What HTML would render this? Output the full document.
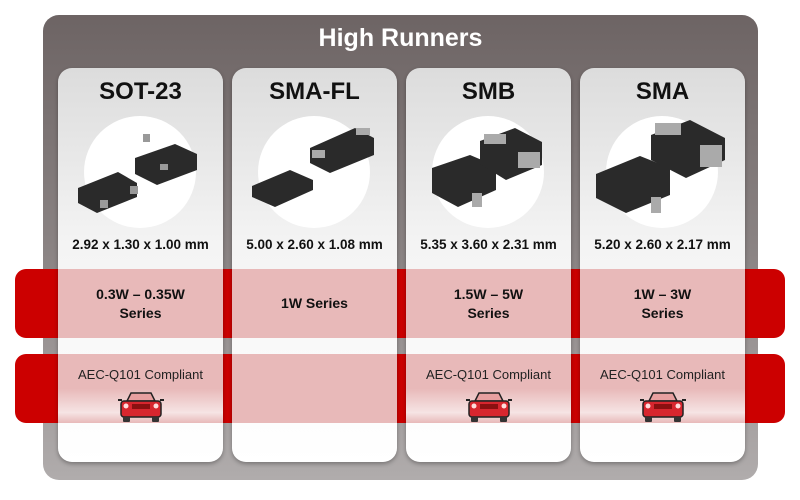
<!DOCTYPE html>
<html><head><style>
body{margin:0;width:800px;height:500px;background:#fff;position:relative;overflow:hidden;font-family:"Liberation Sans",Arial,sans-serif}
.abs{position:absolute}
.outer{left:43px;top:15px;width:715px;height:465px;border-radius:16px;background:linear-gradient(#6d6464,#8a8383 50%,#b0acac)}
.title{left:43px;top:24px;width:715px;text-align:center;color:#fff;font-weight:bold;font-size:25px}
.card{top:68px;width:165px;height:394px;border-radius:14px;background:linear-gradient(#dcdcdc,#f4f4f4 45%,#fff);box-shadow:0 2px 4px rgba(0,0,0,.3)}
.band{left:15px;width:770px;height:69px;border-radius:11px;background:#cc0000}
.pink{width:165px;height:69px;background:#e8b9b9}
.pink2{background:linear-gradient(#e8b9b9 50%,#f6e4e4 85%,#e8b9b9)}
.name{top:78px;width:165px;text-align:center;font-weight:bold;font-size:24px;color:#111}
.circ{width:112px;height:112px;border-radius:50%;background:#fff;top:116px}
.dim{top:237px;width:165px;text-align:center;font-weight:bold;font-size:13.5px;color:#111}
.ser{width:165px;text-align:center;font-weight:bold;font-size:14px;color:#111;line-height:19px}
.aec{top:367px;width:165px;text-align:center;font-size:13px;color:#222}
</style></head><body>
<div class="abs outer"></div>
<div class="abs title">High Runners</div>
<div class="abs band" style="top:269px"></div>
<div class="abs band" style="top:354px"></div>
<div class="abs card" style="left:58px"></div>
<div class="abs card" style="left:232px"></div>
<div class="abs card" style="left:406px"></div>
<div class="abs card" style="left:580px"></div>
<div class="abs pink" style="left:58px;top:269px"></div>
<div class="abs pink" style="left:232px;top:269px"></div>
<div class="abs pink" style="left:406px;top:269px"></div>
<div class="abs pink" style="left:580px;top:269px"></div>
<div class="abs pink pink2" style="left:58px;top:354px"></div>
<div class="abs pink" style="left:232px;top:354px"></div>
<div class="abs pink pink2" style="left:406px;top:354px"></div>
<div class="abs pink pink2" style="left:580px;top:354px"></div>

<div class="abs name" style="left:58px">SOT-23</div>
<div class="abs name" style="left:232px">SMA-FL</div>
<div class="abs name" style="left:406px">SMB</div>
<div class="abs name" style="left:580px">SMA</div>

<div class="abs circ" style="left:84px"></div>
<div class="abs circ" style="left:258px"></div>
<div class="abs circ" style="left:432px"></div>
<div class="abs circ" style="left:606px"></div>

<svg class="abs" style="left:0;top:0" width="800" height="500">
<g fill="#2a2a2a">
<!-- SOT-23 -->
<polygon points="78,188 118,172 137,183 137,197 97,213 78,203"/>
<polygon points="135,158 175,144 197,154 197,170 157,185 135,174"/>
<rect x="100" y="200" width="8" height="8" fill="#999"/><rect x="130" y="186" width="8" height="8" fill="#999"/>
<rect x="143" y="134" width="7" height="8" fill="#999"/><rect x="160" y="164" width="8" height="6" fill="#999"/>
<!-- SMA-FL -->
<polygon points="252,186 290,170 313,180 313,190 275,207 252,197"/>
<polygon points="310,148 355,128 374,138 374,155 330,173 310,163"/>
<rect x="312" y="150" width="13" height="8" fill="#aaa"/><rect x="356" y="128" width="14" height="7" fill="#aaa"/>
<!-- SMB -->
<polygon points="432,168 470,155 496,166 496,190 458,207 432,193"/>
<polygon points="480,141 515,128 542,142 542,165 506,180 480,164"/>
<rect x="518" y="152" width="22" height="16" fill="#aaa"/><rect x="484" y="134" width="22" height="10" fill="#aaa"/>
<rect x="472" y="193" width="10" height="14" fill="#aaa"/>
<!-- SMA -->
<polygon points="596,174 640,156 670,168 670,195 626,213 596,198"/>
<polygon points="651,135 690,120 725,138 725,160 686,178 651,160"/>
<rect x="700" y="145" width="22" height="22" fill="#aaa"/><rect x="655" y="123" width="26" height="12" fill="#aaa"/>
<rect x="651" y="197" width="10" height="16" fill="#aaa"/>
</g>
<g id="car">
</g>
</svg>

<div class="abs dim" style="left:58px">2.92 x 1.30 x 1.00 mm</div>
<div class="abs dim" style="left:232px">5.00 x 2.60 x 1.08 mm</div>
<div class="abs dim" style="left:406px">5.35 x 3.60 x 2.31 mm</div>
<div class="abs dim" style="left:580px">5.20 x 2.60 x 2.17 mm</div>

<div class="abs ser" style="left:58px;top:285px">0.3W – 0.35W<br>Series</div>
<div class="abs ser" style="left:232px;top:294px">1W Series</div>
<div class="abs ser" style="left:406px;top:285px">1.5W – 5W<br>Series</div>
<div class="abs ser" style="left:580px;top:285px">1W – 3W<br>Series</div>

<div class="abs aec" style="left:58px">AEC-Q101 Compliant</div>
<div class="abs aec" style="left:406px">AEC-Q101 Compliant</div>
<div class="abs aec" style="left:580px">AEC-Q101 Compliant</div>

<svg class="abs" style="left:118px;top:391px" width="46" height="32" viewBox="0 0 46 32">
<path d="M9 10 L13 2 H33 L37 10 Z" fill="#e8a0a0" stroke="#222" stroke-width="1.5"/>
<rect x="3" y="10" width="40" height="16" rx="3" fill="#d7262e" stroke="#222" stroke-width="1.5"/>
<rect x="5" y="26" width="7" height="5" rx="1" fill="#333"/><rect x="34" y="26" width="7" height="5" rx="1" fill="#333"/>
<rect x="14" y="13" width="18" height="5" fill="#8a1010"/>
<circle cx="8" cy="15" r="2.5" fill="#fdd"/><circle cx="38" cy="15" r="2.5" fill="#fdd"/>
<rect x="0" y="8" width="4" height="2" fill="#222"/><rect x="42" y="8" width="4" height="2" fill="#222"/>
</svg>
<svg class="abs" style="left:466px;top:391px" width="46" height="32" viewBox="0 0 46 32">
<path d="M9 10 L13 2 H33 L37 10 Z" fill="#e8a0a0" stroke="#222" stroke-width="1.5"/>
<rect x="3" y="10" width="40" height="16" rx="3" fill="#d7262e" stroke="#222" stroke-width="1.5"/>
<rect x="5" y="26" width="7" height="5" rx="1" fill="#333"/><rect x="34" y="26" width="7" height="5" rx="1" fill="#333"/>
<rect x="14" y="13" width="18" height="5" fill="#8a1010"/>
<circle cx="8" cy="15" r="2.5" fill="#fdd"/><circle cx="38" cy="15" r="2.5" fill="#fdd"/>
<rect x="0" y="8" width="4" height="2" fill="#222"/><rect x="42" y="8" width="4" height="2" fill="#222"/>
</svg>
<svg class="abs" style="left:640px;top:391px" width="46" height="32" viewBox="0 0 46 32">
<path d="M9 10 L13 2 H33 L37 10 Z" fill="#e8a0a0" stroke="#222" stroke-width="1.5"/>
<rect x="3" y="10" width="40" height="16" rx="3" fill="#d7262e" stroke="#222" stroke-width="1.5"/>
<rect x="5" y="26" width="7" height="5" rx="1" fill="#333"/><rect x="34" y="26" width="7" height="5" rx="1" fill="#333"/>
<rect x="14" y="13" width="18" height="5" fill="#8a1010"/>
<circle cx="8" cy="15" r="2.5" fill="#fdd"/><circle cx="38" cy="15" r="2.5" fill="#fdd"/>
<rect x="0" y="8" width="4" height="2" fill="#222"/><rect x="42" y="8" width="4" height="2" fill="#222"/>
</svg>
</body></html>
